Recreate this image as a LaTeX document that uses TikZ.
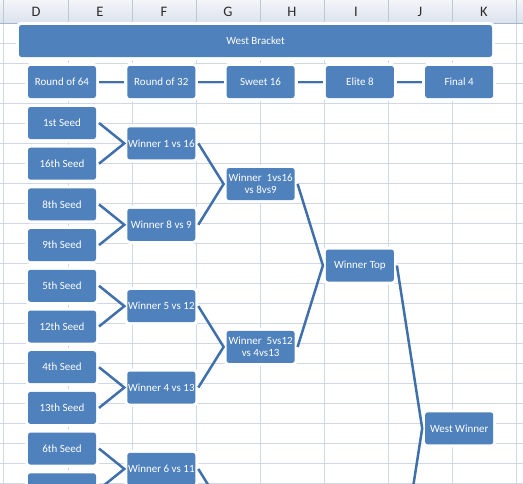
\documentclass[tikz,border=0pt]{standalone}
\usepackage{fontspec}
\setmainfont{Carlito}
\usetikzlibrary{positioning, calc}
\definecolor{brkBlue}{HTML}{4F81BD}
\definecolor{brkLine}{HTML}{4070AC}
\definecolor{gridGray}{HTML}{D0D7E5}
\definecolor{headTop}{HTML}{F3F5F9}
\definecolor{headBot}{HTML}{DCE3ED}
\definecolor{headLine}{HTML}{9EB6CE}
\definecolor{headSep}{HTML}{B9C9DA}
\definecolor{headText}{HTML}{2B2B2B}
\tikzset{
  box/.style={rectangle, rounded corners=2.5pt, fill=brkBlue, text=white,
              align=center, font=\fontsize{11}{12.5}\selectfont, inner sep=0pt,
              minimum width=68pt, minimum height=32pt, outer sep=3pt,
              preaction={draw=white, line width=6pt}},
  link/.style={brkLine, line width=2.5pt, line join=miter},
  gridline/.style={gridGray, line width=0.8pt},
  colhead/.style={text=headText, font=\fontsize{14.5}{16}\selectfont},
}

\begin{document}
\begin{tikzpicture}[x=1pt, y=-1pt, node distance=25.3pt]
    \useasboundingbox (0,0) rectangle (523,483);
    \clip (0,0) rectangle (523,483);
    % sheet grid and column headers
    \foreach \i in {1,...,23}
      \draw[gridline] (0,{23+20*\i}) -- (523,{23+20*\i});
    \foreach \x in {3.5,68,132,196,260,324,388,452,516}
      \draw[gridline] (\x,23) -- (\x,483);
    \shade[top color=headTop, bottom color=headBot] (0,0) rectangle (523,23);
    \foreach \x in {3.5,68,132,196,260,324,388,452,516}
      \draw[headSep] (\x,0) -- (\x,23);
    \draw[headLine] (0,23) -- (523,23);
    \foreach \c [count=\k from 0] in {D,E,F,G,H,I,J,K}
      \node[colhead] (col\c) at ({36+64*\k},12) {\c};

    % title and round labels
    \node[box, minimum width=473pt] (title) at (255.5,41) {West Bracket};
    \node[box] (r64) at (62,82) {Round of 64};
    \node[box, right=of r64] (r32) {Round of 32};
    \node[box, right=of r32] (s16) {Sweet 16};
    \node[box, right=of s16] (e8) {Elite 8};
    \node[box, right=of e8] (f4) {Final 4};
    \draw[link] (r64) -- (r32); \draw[link] (r32) -- (s16);
    \draw[link] (s16) -- (e8); \draw[link] (e8) -- (f4);

    % seeds
    \foreach \nm/\lbl [count=\k from 0] in {sd1/1st Seed, sd16/16th Seed,
        sd8/8th Seed, sd9/9th Seed, sd5/5th Seed, sd12/12th Seed,
        sd4/4th Seed, sd13/13th Seed, sd6/6th Seed, sd11/}
      \node[box] (\nm) at (62,{123+40.7*\k}) {\lbl};

    % round of 32
    \foreach \nm/\lbl [count=\k from 0] in {w1/Winner 1 vs 16, w8/Winner 8 vs 9,
        w5/Winner 5 vs 12, w4/Winner 4 vs 13, w6/Winner 6 vs 11}
      \node[box] (\nm) at (161.3,{143.35+81.4*\k}) {\lbl};

    % sweet 16, elite 8, final 4
    \node[box] (sw1) at (260.6,184) {Winner\ \ 1vs16\\vs 8vs9};
    \node[box] (sw2) at (260.6,346.9) {Winner\ \ 5vs12\\vs 4vs13};
    \coordinate (sw3) at (223.6,509.8);
    \node[box] (eTop) at (359.9,265.5) {Winner Top};
    \coordinate (eBot) at (396.9,591.3);
    \node[box] (fWest) at (459.2,428.4) {West Winner};

    \draw[link] (sd1.east) -- (w1.west) -- (sd16.east);
    \draw[link] (sd8.east) -- (w8.west) -- (sd9.east);
    \draw[link] (sd5.east) -- (w5.west) -- (sd12.east);
    \draw[link] (sd4.east) -- (w4.west) -- (sd13.east);
    \draw[link] (sd6.east) -- (w6.west) -- (sd11.east);
    \draw[link] (w1.east) -- (sw1.west) -- (w8.east);
    \draw[link] (w5.east) -- (sw2.west) -- (w4.east);
    \draw[link] (w6.east) -- (sw3);
    \draw[link] (sw1.east) -- (eTop.west) -- (sw2.east);
    \draw[link] (eTop.east) -- (fWest.west) -- (eBot);
\end{tikzpicture}
\end{document}
